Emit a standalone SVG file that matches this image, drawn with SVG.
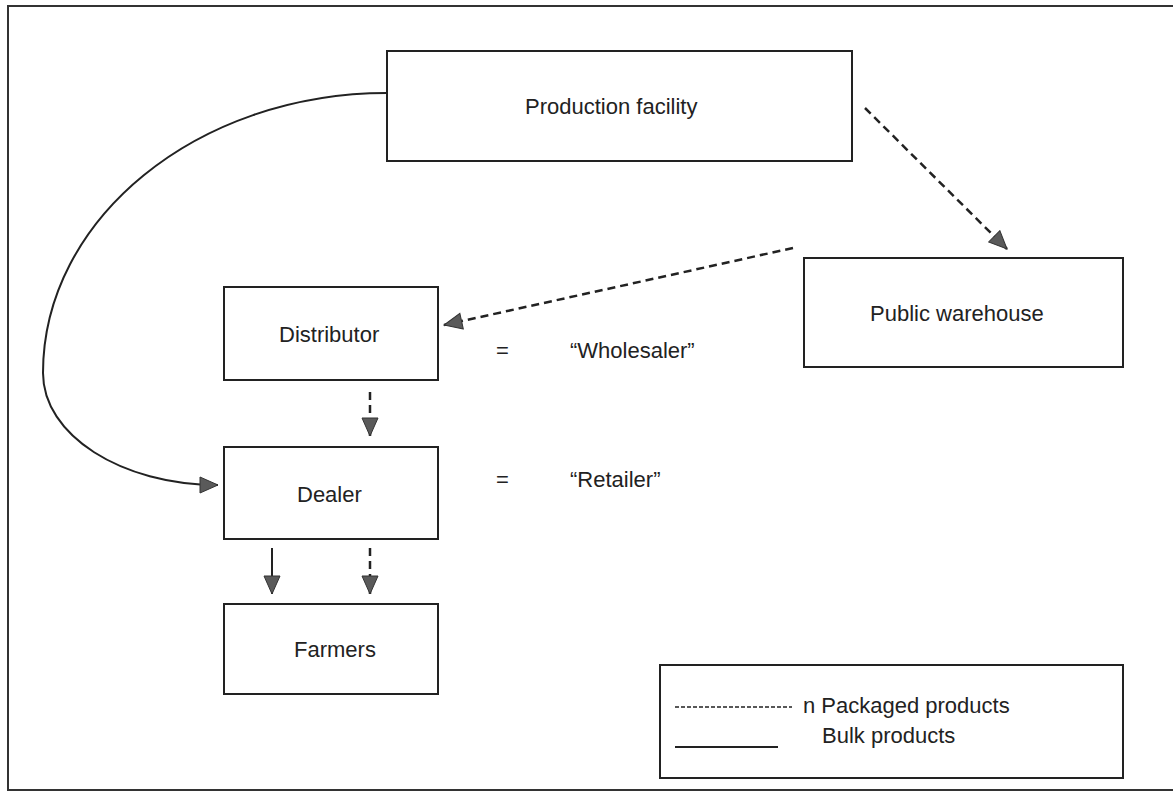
<svg xmlns="http://www.w3.org/2000/svg" width="1173" height="799" viewBox="0 0 1173 799">
  <style>
    .box { fill: #ffffff; stroke: #222222; stroke-width: 2; }
    .lbl { font-family: "Liberation Sans", Arial, sans-serif; font-size: 22px; fill: #222222; }
    .bulk { fill: none; stroke: #222222; stroke-width: 2; }
    .pack { fill: none; stroke: #222222; stroke-width: 2.5; stroke-dasharray: 8 5; }
  </style>
  <defs>
    <marker id="head" markerUnits="userSpaceOnUse" markerWidth="20" markerHeight="18" refX="19" refY="9" orient="auto">
      <path d="M1,1 L19,9 L1,17 Z" fill="#5a5a5a" stroke="#333333" stroke-width="1"/>
    </marker>
  </defs>

  <rect x="0" y="0" width="1173" height="799" fill="#ffffff"/>
  <!-- page frame -->
  <path d="M1173,6 L8,6 L8,790 L1173,790" fill="none" stroke="#333333" stroke-width="2"/>

  <g id="production-facility">
    <rect class="box" x="387" y="51" width="465" height="110"/>
    <text class="lbl" x="525" y="114">Production facility</text>
  </g>
  <g id="public-warehouse">
    <rect class="box" x="804" y="258" width="319" height="109"/>
    <text class="lbl" x="870" y="321">Public warehouse</text>
  </g>
  <g id="distributor">
    <rect class="box" x="224" y="287" width="214" height="93"/>
    <text class="lbl" x="279" y="342">Distributor</text>
  </g>
  <g id="dealer">
    <rect class="box" x="224" y="447" width="214" height="92"/>
    <text class="lbl" x="297" y="502">Dealer</text>
  </g>
  <g id="farmers">
    <rect class="box" x="224" y="604" width="214" height="90"/>
    <text class="lbl" x="294" y="657">Farmers</text>
  </g>

  <g id="aliases">
    <text class="lbl" x="496" y="358">=</text>
    <text class="lbl" x="570" y="358">“Wholesaler”</text>
    <text class="lbl" x="496" y="487">=</text>
    <text class="lbl" x="570" y="487">“Retailer”</text>
  </g>

  <g id="connectors">
    <!-- bulk route straight from production to the dealer -->
    <path class="bulk" d="M387,93 C197,93 43,219 43,373 C43,435 121,485 218,485" marker-end="url(#head)"/>
    <!-- packaged route via public warehouse -->
    <path class="pack" d="M865,108 L1007,249" marker-end="url(#head)"/>
    <path class="pack" d="M793,248 L444,325" marker-end="url(#head)"/>
    <path class="pack" d="M370,392 L370,436" marker-end="url(#head)"/>
    <!-- dealer to farmers -->
    <path class="bulk" d="M272,548 L272,594" marker-end="url(#head)"/>
    <path class="pack" d="M370,548 L370,594" marker-end="url(#head)"/>
  </g>

  <g id="legend">
    <rect class="box" x="660" y="665" width="463" height="113"/>
    <line x1="675" y1="707" x2="792" y2="707" stroke="#222222" stroke-width="1.5" stroke-dasharray="4 2"/>
    <text class="lbl" x="803" y="713">n Packaged products</text>
    <line x1="675" y1="747" x2="778" y2="747" stroke="#222222" stroke-width="2"/>
    <text class="lbl" x="822" y="743">Bulk products</text>
  </g>
</svg>
